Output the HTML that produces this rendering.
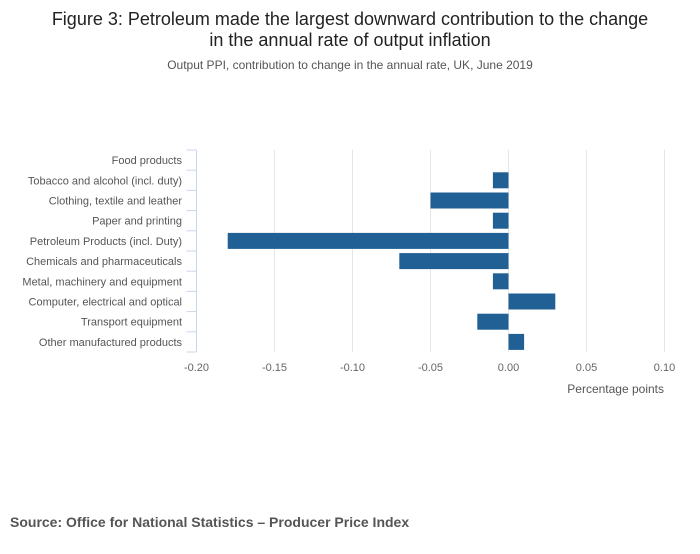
<!DOCTYPE html>
<html><head><meta charset="utf-8"><style>
body{margin:0;background:#fff;font-family:"Liberation Sans",sans-serif;}
</style></head><body>
<svg width="700" height="549" xmlns="http://www.w3.org/2000/svg" style="font-family:'Liberation Sans',sans-serif">
<text x="350" y="25" text-anchor="middle" font-size="18" fill="#222">Figure 3: Petroleum made the largest downward contribution to the change</text>
<text x="350" y="46" text-anchor="middle" font-size="18" fill="#222">in the annual rate of output inflation</text>
<text x="350" y="69" text-anchor="middle" font-size="12" fill="#555">Output PPI, contribution to change in the annual rate, UK, June 2019</text>
<g id="grid"></g>
<g id="bars"></g>
<g id="axes"></g>
<text x="664" y="393" text-anchor="end" font-size="12" fill="#555">Percentage points</text>
<text x="10" y="527" font-size="14" font-weight="bold" fill="#555">Source: Office for National Statistics – Producer Price Index</text>
</svg>
<script>
const categories=["Food products","Tobacco and alcohol (incl. duty)","Clothing, textile and leather","Paper and printing","Petroleum Products (incl. Duty)","Chemicals and pharmaceuticals","Metal, machinery and equipment","Computer, electrical and optical","Transport equipment","Other manufactured products"];
const values=[0,-0.01,-0.05,-0.01,-0.18,-0.07,-0.01,0.03,-0.02,0.01];
const ticks=[-0.20,-0.15,-0.10,-0.05,0.00,0.05,0.10];
const tickLabels=["-0.20","-0.15","-0.10","-0.05","0.00","0.05","0.10"];
const NS="http://www.w3.org/2000/svg";
const x0=196.5,x1=664.5,dmin=-0.2,dmax=0.1,plotTop=150,plotBottom=352;
const xs=v=>x0+(v-dmin)/(dmax-dmin)*(x1-x0);
const band=(plotBottom-plotTop)/categories.length;
function mk(t,a,p){const e=document.createElementNS(NS,t);for(const k in a)e.setAttribute(k,a[k]);p.appendChild(e);return e;}
const grid=document.getElementById('grid'),bars=document.getElementById('bars'),axes=document.getElementById('axes');
ticks.forEach((t,i)=>{
  if(i>0){const l=mk('line',{x1:xs(t),x2:xs(t),y1:plotTop,y2:plotBottom,stroke:'#e6e6e6','stroke-width':1},grid);
  
  }
  const tx=mk('text',{x:xs(t),y:371,'text-anchor':'middle','font-size':11,fill:'#666'},axes);
  tx.textContent=tickLabels[i];
  
  
});
const ax=mk('line',{x1:x0,x2:x0,y1:plotTop,y2:plotBottom,stroke:'#ccd6eb','stroke-width':1},axes);


for(let i=0;i<=categories.length;i++){
  const y=plotTop+i*band;
  const tk=mk('line',{x1:x0-10,x2:x0,y1:y,y2:y,stroke:'#ccd6eb','stroke-width':1},axes);
  
  
}
categories.forEach((c,i)=>{
  const yc=plotTop+(i+0.5)*band;
  const t=mk('text',{x:182,y:yc+4,'text-anchor':'end','font-size':11,fill:'#555'},axes);
  t.textContent=c;
  
  
  const v=values[i];
  if(v!==0){
    const a=xs(Math.min(0,v)),b=xs(Math.max(0,v));
    const r=mk('rect',{x:a,y:yc-8,width:b-a,height:16,fill:'#206095'},bars);
    
    
  }
});
</script>
</body></html>
